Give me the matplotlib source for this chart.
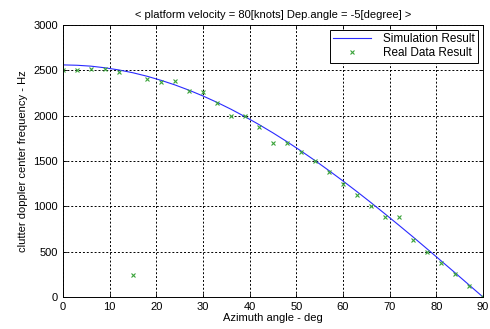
import matplotlib
matplotlib.use("Agg")
import matplotlib.pyplot as plt

plt.rcParams["font.family"] = ["Liberation Sans", "DejaVu Sans"]

# simulation curve (every 3 degrees)
sim_angle = [0, 3, 6, 9, 12, 15, 18, 21, 24, 27, 30, 33, 36, 39, 42, 45,
             48, 51, 54, 57, 60, 63, 66, 69, 72, 75, 78, 81, 84, 87, 90]
sim_freq = [2560, 2556, 2546, 2528, 2504, 2473, 2435, 2390, 2339, 2281, 2217,
            2147, 2071, 1989, 1902, 1810, 1713, 1611, 1505, 1394, 1280, 1162,
            1041, 917, 791, 663, 532, 400, 268, 134, 0]

# measured points
real_angle = [0, 3, 6, 9, 12, 15, 18, 21, 24, 27, 30, 33, 36, 39, 42, 45,
              48, 51, 54, 57, 60, 63, 66, 69, 72, 75, 78, 81, 84, 87, 90]
real_freq = [2500, 2500, 2520, 2510, 2480, 240, 2400, 2370, 2380, 2270, 2260,
             2135, 2000, 2000, 1880, 1700, 1700, 1595, 1500, 1375, 1250, 1130,
             1000, 880, 880, 630, 500, 370, 250, 125, 0]

xticks = [0, 10, 20, 30, 40, 50, 60, 70, 80, 90]
yticks = [0, 500, 1000, 1500, 2000, 2500, 3000]

fig = plt.figure(figsize=(4.9, 3.29), dpi=100)
ax = fig.add_axes([0.1286, 0.0973, 0.857, 0.8267])

ax.plot(sim_angle, sim_freq, color="#2a2aff", linewidth=0.8, label="Simulation Result")
ax.plot(real_angle, real_freq, linestyle="none", marker="x", markersize=3.5,
        markeredgewidth=0.8, color="#3aa33a", label="Real Data Result")

ax.set_xlim(0, 90)
ax.set_ylim(0, 3000)
ax.set_xticks(xticks)
ax.set_yticks(yticks)
ax.grid(True, color="black", linestyle=(0, (2, 2)), linewidth=0.7)
ax.tick_params(direction="in", top=True, right=True, labelsize=8, length=3, width=0.6)
for s in ax.spines.values():
    s.set_linewidth(0.7)

ax.set_xlabel("Azimuth angle - deg", fontsize=8, labelpad=1)
ax.set_ylabel("clutter doppler center frequency - Hz", fontsize=8, labelpad=4)
ax.set_title("< platform velocity = 80[knots] Dep.angle = -5[degree] >", fontsize=8, pad=5)

leg = ax.legend(loc="upper right", fontsize=8.5, fancybox=False, edgecolor="black",
                framealpha=1, borderaxespad=0.4, handlelength=3.2, handletextpad=1.0,
                labelspacing=0.15, borderpad=0.3)
leg.get_frame().set_linewidth(0.7)

fig.savefig("out.png", dpi=100)
